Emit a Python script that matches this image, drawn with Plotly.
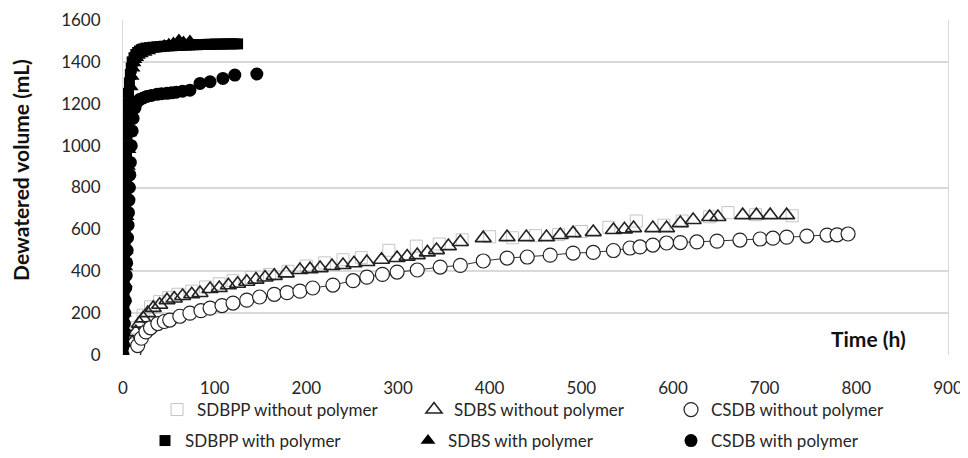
import plotly.graph_objects as go

# ---------------- data ----------------
# SDBPP without polymer (grey open squares)
sdbpp_wo_t = [8, 15, 22, 30, 40, 50, 60, 75, 90, 105, 120, 140, 160, 180, 200, 220, 240, 260,
              290, 320, 345, 370, 400, 425, 450, 475, 500, 530, 560, 590, 610, 640, 660, 690, 730]
sdbpp_wo_v = [50, 130, 190, 230, 255, 275, 290, 305, 325, 340, 355, 370, 385, 400, 425, 440, 455, 465,
              500, 520, 530, 550, 565, 560, 570, 575, 590, 610, 640, 620, 640, 660, 680, 670, 665]

# SDBS without polymer (open triangles)
sdbs_wo_t = [5, 10, 14, 18, 22, 27, 33, 40, 48, 56, 65, 75, 84, 95, 105, 115, 125, 135, 145, 155,
             165, 178, 193, 204, 215, 228, 240, 252, 266, 282, 299, 310, 321, 332, 342, 355, 368,
             393, 419, 440, 462, 477, 491, 513, 535, 547, 557, 578, 593, 608, 622, 640, 649, 676,
             691, 706, 724]
sdbs_wo_v = [0, 60, 110, 150, 175, 200, 225, 240, 262, 270, 282, 290, 296, 315, 320, 333, 340, 350,
             360, 370, 378, 390, 406, 410, 415, 425, 430, 438, 444, 455, 463, 470, 477, 490, 501,
             520, 540, 558, 563, 563, 563, 573, 582, 587, 597, 600, 606, 606, 606, 630, 645, 659,
             659, 668, 668, 668, 668]

# CSDB without polymer (open circles)
csdb_wo_t = [5, 12, 16, 20, 25, 30, 38, 45, 51, 62, 73, 85, 95, 108, 120, 135, 149, 165, 179, 193,
             207, 229, 251, 266, 283, 299, 321, 346, 368, 393, 419, 441, 466, 491, 513, 535, 553,
             564, 578, 593, 608, 626, 648, 673, 695, 709, 724, 746, 768, 779, 791]
csdb_wo_v = [0, 15, 45, 80, 110, 130, 150, 160, 167, 185, 200, 212, 224, 236, 248, 262, 277, 290,
             298, 305, 320, 334, 355, 372, 385, 396, 406, 420, 428, 449, 463, 468, 477, 487, 490,
             499, 511, 516, 525, 535, 537, 540, 544, 549, 554, 558, 563, 568, 573, 574, 578]

# SDBPP with polymer (filled squares)
sdbpp_w_t = [0, 0.2, 0.4, 0.6, 0.8, 1.0, 1.2, 1.4, 1.6, 1.8, 2.0, 2.2, 2.4, 2.6, 2.8, 3.0, 3.2,
             3.4, 3.6, 3.8, 4.0, 4.3, 4.6, 5.0, 5.5, 6, 7, 8, 9, 10, 12, 14, 16, 18, 20, 22, 25,
             29, 33, 37, 41, 45, 49, 53, 57, 61, 65, 69, 73, 77, 81, 85, 89, 93, 97, 101, 105,
             109, 113, 117, 121, 125]
sdbpp_w_v = [0, 50, 100, 150, 200, 250, 300, 350, 400, 450, 500, 550, 600, 650, 700, 750, 800,
             850, 900, 950, 1000, 1050, 1100, 1150, 1200, 1250, 1300, 1340, 1370, 1400, 1420,
             1435, 1445, 1452, 1458, 1462, 1466, 1468, 1470, 1472, 1473, 1475, 1476, 1477, 1478,
             1479, 1480, 1480, 1481, 1482, 1482, 1483, 1483, 1484, 1484, 1485, 1485, 1485, 1486,
             1486, 1486, 1486]

# SDBS with polymer (filled triangles)
sdbs_w_t = [0, 0.5, 1, 1.5, 2, 2.5, 3, 3.5, 4, 4.5, 5, 5.5, 6, 6.5, 7, 7.5, 8, 9, 10, 11, 12,
            13, 15, 17, 20, 24, 28, 33, 38, 45, 50, 55, 61, 66, 73]
sdbs_w_v = [0, 60, 130, 200, 270, 340, 420, 500, 580, 660, 740, 820, 900, 980, 1060, 1140, 1220,
            1280, 1330, 1370, 1395, 1410, 1420, 1430, 1438, 1445, 1452, 1460, 1468, 1478, 1484,
            1490, 1505, 1495, 1500]

# CSDB with polymer (filled circles)
csdb_w_t = [0, 0.5, 1, 1.5, 2, 2.5, 3, 3.5, 4, 4.5, 5, 5.5, 6, 6.5, 7, 7.5, 8, 9, 10, 11, 13,
            15, 18, 22, 26, 31, 37, 42, 48, 53, 58, 65, 73, 84, 95, 109, 122, 146]
csdb_w_v = [0, 50, 100, 150, 200, 260, 320, 380, 440, 500, 560, 620, 680, 740, 800, 860, 920,
            1000, 1070, 1130, 1180, 1205, 1220, 1228, 1235, 1240, 1245, 1248, 1250, 1252, 1255,
            1260, 1265, 1297, 1305, 1321, 1337, 1342]

x_ticks = [0, 100, 200, 300, 400, 500, 600, 700, 800, 900]
y_ticks = [0, 200, 400, 600, 800, 1000, 1200, 1400, 1600]
grid_vals = [200, 400, 800, 1400]

FONT = "Lato"
TXT = "#262626"
W, H = 960, 450   # the page adds an 8 px body margin

fig = go.Figure()

# -------- row 1 of the legend: without polymer --------
fig.add_trace(go.Scatter(
    x=sdbpp_wo_t, y=sdbpp_wo_v, mode="markers", name="SDBPP without polymer", legend="legend",
    marker=dict(symbol="square-open", size=12, color="#c4c4c4", line=dict(width=1))))
fig.add_trace(go.Scatter(
    x=sdbs_wo_t, y=sdbs_wo_v, mode="markers", name="SDBS without polymer", legend="legend",
    marker=dict(symbol="triangle-up-open", size=14, color="#222222", line=dict(width=1.6))))
fig.add_trace(go.Scatter(
    x=csdb_wo_t, y=csdb_wo_v, mode="lines", showlegend=False, legend="legend",
    legendgroup="csdbwo", line=dict(color="#333333", width=1), hoverinfo="skip"))
fig.add_trace(go.Scatter(
    x=csdb_wo_t, y=csdb_wo_v, mode="markers", name="CSDB without polymer", legend="legend",
    legendgroup="csdbwo",
    marker=dict(symbol="circle", size=14, color="white", line=dict(width=1.2, color="#222222"))))

# -------- row 2 of the legend: with polymer --------
fig.add_trace(go.Scatter(
    x=sdbpp_w_t, y=sdbpp_w_v, mode="markers", name="SDBPP with polymer", legend="legend2",
    marker=dict(symbol="square", size=11, color="black")))
fig.add_trace(go.Scatter(
    x=sdbs_w_t, y=sdbs_w_v, mode="markers", name="SDBS with polymer", legend="legend2",
    marker=dict(symbol="triangle-up", size=13, color="black")))
fig.add_trace(go.Scatter(
    x=csdb_w_t, y=csdb_w_v, mode="markers", name="CSDB with polymer", legend="legend2",
    marker=dict(symbol="circle", size=13, color="black")))

# invisible trace on a second y-axis to carry the partial gridlines
fig.add_trace(go.Scatter(x=[None], y=[None], yaxis="y2", showlegend=False, hoverinfo="skip"))

legend_common = dict(orientation="h", xref="container", yref="container",
                     xanchor="left", yanchor="middle", itemwidth=30,
                     entrywidthmode="pixels", traceorder="normal",
                     font=dict(family=FONT, size=17, color=TXT),
                     bgcolor="rgba(0,0,0,0)", borderwidth=0)

fig.update_layout(
    width=W, height=H,
    margin=dict(l=115, r=20, t=12, b=103, autoexpand=False),
    paper_bgcolor="white", plot_bgcolor="white",
    font=dict(family=FONT, size=17, color=TXT),
    showlegend=True,
    legend=dict(legend_common, x=149 / W, y=48 / H, entrywidth=212),
    legend2=dict(legend_common, x=137 / W, y=17 / H, entrywidth=218),
    xaxis=dict(range=[0, 900], tickvals=x_ticks, showgrid=False, zeroline=False,
               showline=False, ticks="outside", ticklen=18, tickcolor="rgba(0,0,0,0)",
               tickfont=dict(size=17), automargin=False),
    yaxis=dict(range=[0, 1600], tickvals=y_ticks, showgrid=False, zeroline=False,
               showline=True, mirror=True, linecolor="#d9d9d9", linewidth=1,
               ticks="outside", ticklen=18, tickcolor="rgba(0,0,0,0)",
               tickfont=dict(size=17), automargin=False),
    yaxis2=dict(range=[0, 1600], overlaying="y", tickvals=grid_vals, showticklabels=False,
                showgrid=True, gridcolor="#d9d9d9", gridwidth=1.5, zeroline=False,
                automargin=False, layer="below traces"),
    annotations=[
        dict(text="<b>Time (h)</b>", xref="paper", yref="paper", x=0.951, y=0.05,
             xanchor="right", yanchor="middle", showarrow=False,
             font=dict(family=FONT, size=21, color="#111111")),
        dict(text="<b>Dewatered volume (mL)</b>", xref="paper", yref="paper",
             x=-0.125, y=0.552, textangle=-90, xanchor="center", yanchor="middle",
             showarrow=False, font=dict(family=FONT, size=21, color="#111111")),
    ],
)

fig.write_html("out.html")
